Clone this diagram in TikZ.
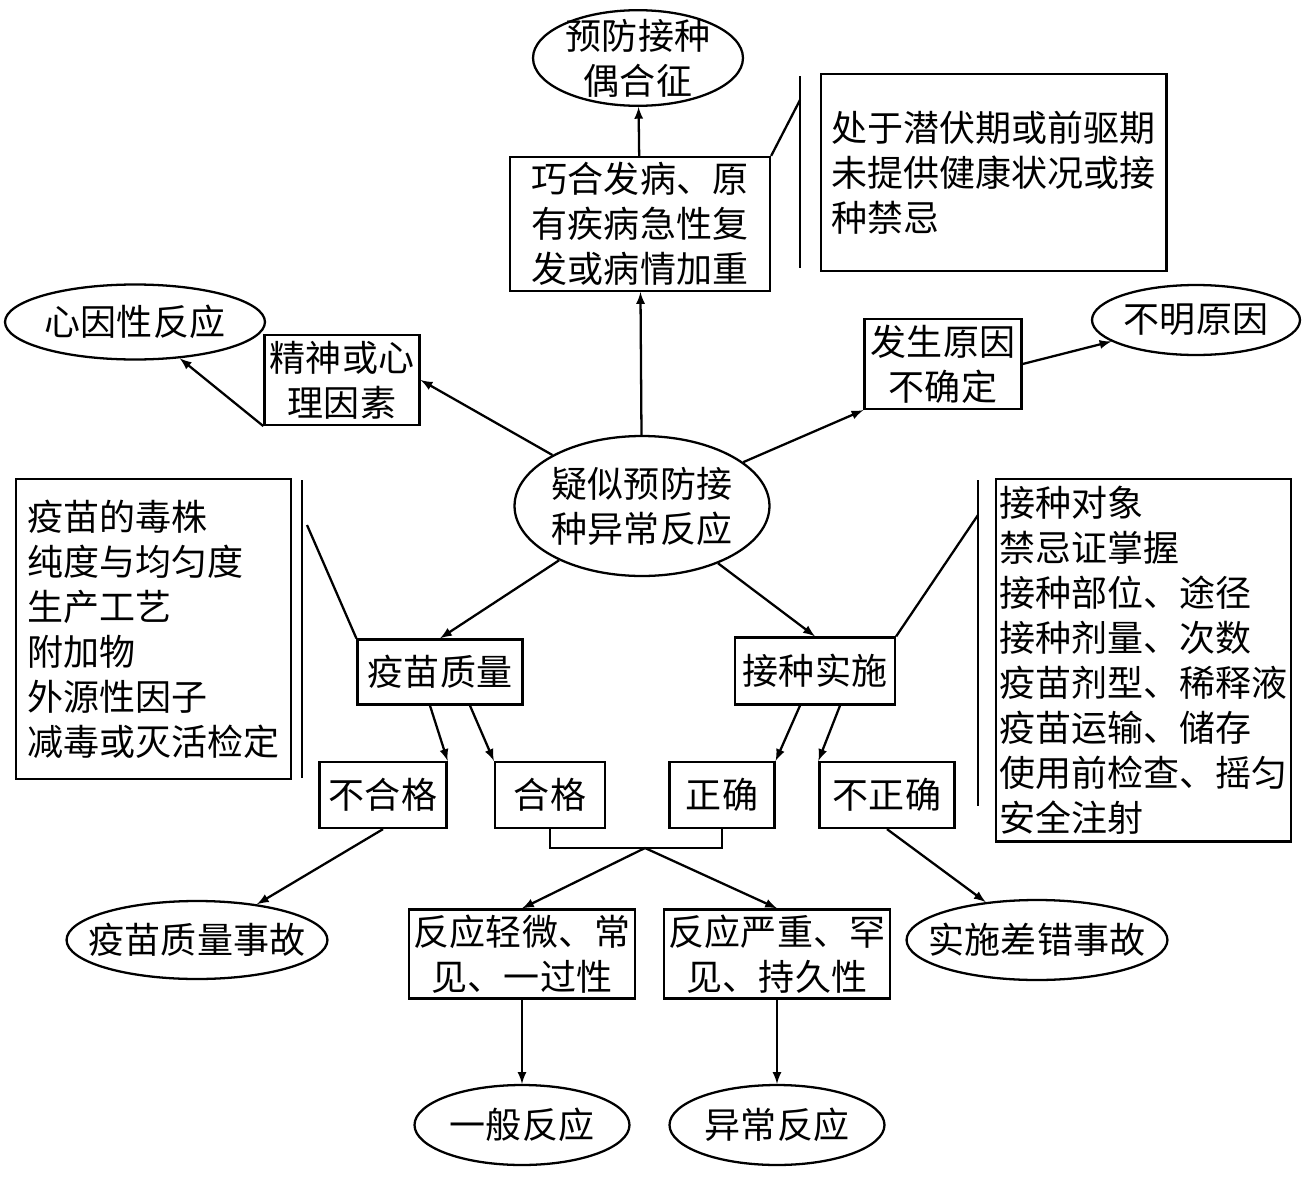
\documentclass[tikz,border=0pt]{standalone}
\usepackage{fontspec}
\setmainfont{Noto Sans CJK SC}
\usetikzlibrary{arrows,shapes.geometric}
\tikzset{
  box/.style = {draw, rectangle, line width=1.3pt, inner sep=3pt,
    align=center, font=\fontsize{20.5}{25.6}\selectfont},
  listbox/.style = {box, align=left, anchor=north west, inner sep=6pt},
  oval/.style = {draw, ellipse, line width=1.3pt, inner sep=-3pt,
    align=center, font=\fontsize{20.5}{25.6}\selectfont},
  conn/.style = {line width=1.3pt},
  arr/.style = {conn, -latex}
}
\begin{document}
\begin{tikzpicture}[x=0.02cm, y=-0.02cm]
  \useasboundingbox (0,0) rectangle (1303,1180);
  % centre and upper branch
  \node [oval, minimum width=5.1cm, minimum height=2.8cm] (susp) at (642,506) {疑似预防接\\种异常反应};
  \node [box, minimum width=5.2cm, minimum height=2.64cm] (coin) at (640,224) {巧合发病、原\\有疾病急性复\\发或病情加重};
  \node [oval, minimum width=4.2cm, minimum height=1.8cm] (coinres) at (638,58) {预防接种\\偶合征};
  \node [listbox, minimum width=6.76cm, minimum height=3.94cm] (coinlist) at (820,73) {处于潜伏期或前驱期\\未提供健康状况或接\\种禁忌};
  \coordinate (coinbar1) at (800,76);
  \coordinate (coinbar2) at (800,268);
  % left and right branch
  \node [box, minimum width=3.1cm, minimum height=1.8cm] (psy) at (342,380) {精神或心\\理因素};
  \node [oval, minimum width=5.2cm, minimum height=1.5cm] (psyres) at (135,322) {心因性反应};
  \node [box, minimum width=3.14cm, minimum height=1.8cm] (unk) at (943,364) {发生原因\\不确定};
  \node [oval, minimum width=4.16cm, minimum height=1.4cm] (unkres) at (1196,320) {不明原因};
  % vaccine quality
  \node [box, minimum width=3.3cm, minimum height=1.3cm] (vq) at (440,672) {疫苗质量};
  \node [listbox, inner xsep=4pt, minimum width=5.5cm, minimum height=6cm] (vqlist) at (15,478) {疫苗的毒株\\纯度与均匀度\\生产工艺\\附加物\\外源性因子\\减毒或灭活检定};
  \coordinate (vqbar1) at (302,480);
  \coordinate (vqbar2) at (302,778);
  \node [box, minimum width=2.54cm, minimum height=1.32cm] (bad) at (383,795) {不合格};
  \node [box, minimum width=2.2cm, minimum height=1.32cm] (good) at (550,795) {合格};
  \node [oval, minimum width=4.34cm, minimum height=1.56cm, inner sep=-9pt] (vqacc) at (197,940) {疫苗质量事故};
  % practice
  \node [box, minimum width=3.2cm, minimum height=1.34cm] (prac) at (815,671) {接种实施};
  \node [listbox, inner xsep=1pt, inner ysep=4pt, minimum width=5.9cm, minimum height=6.6cm] (praclist) at (995,478) {接种对象\\禁忌证掌握\\接种部位、途径\\接种剂量、次数\\疫苗剂型、稀释液\\疫苗运输、储存\\使用前检查、摇匀\\安全注射};
  \coordinate (pracbar1) at (978,480);
  \coordinate (pracbar2) at (978,806);
  \node [box, minimum width=2.1cm, minimum height=1.32cm] (right) at (722,795) {正确};
  \node [box, minimum width=2.7cm, minimum height=1.32cm] (wrong) at (887,795) {不正确};
  \node [oval, minimum width=4.3cm, minimum height=1.6cm, inner sep=-9pt] (pracacc) at (1037,940) {实施差错事故};
  % reactions
  \node [box, minimum width=4.5cm, minimum height=1.76cm] (mild) at (522,954) {反应轻微、常\\见、一过性};
  \node [box, minimum width=4.4cm, minimum height=1.76cm] (severe) at (777,954) {反应严重、罕\\见、持久性};
  \node [oval, minimum width=4.3cm, minimum height=1.6cm] (gen) at (522,1125) {一般反应};
  \node [oval, minimum width=4.3cm, minimum height=1.6cm] (abn) at (777,1125) {异常反应};
  \coordinate (join) at (645,848);
  % connectors
  \draw [arr] (susp) -- (coin);
  \draw [arr] (coin) -- (coinres);
  \draw [conn] (coinbar1) -- (coinbar2);
  \draw [conn] (coin.north east) -- (800,100);
  \draw [arr] (susp) -- (psy.east);
  \draw [arr] (psy.south west) -- (psyres);
  \draw [arr] (susp) -- (unk.south west);
  \draw [arr] (unk.east) -- (unkres);
  \draw [arr] (susp) -- (vq.north);
  \draw [arr] (susp) -- (prac.north);
  \draw [conn] (vqbar1) -- (vqbar2);
  \draw [conn] (vq.north west) -- (307,525);
  \draw [conn] (pracbar1) -- (pracbar2);
  \draw [conn] (prac.north east) -- (978,515);
  \draw [arr] (vq.south) ++(-10,0) -- (bad.north east);
  \draw [arr] (vq.south) ++(30,0) -- (good.north west);
  \draw [arr] (prac.south) ++(-15,0) -- (right.north east);
  \draw [arr] (prac.south) ++(25,0) -- (wrong.north west);
  \draw [arr] (bad.south) -- (vqacc);
  \draw [arr] (wrong.south) -- (pracacc);
  \draw [conn] (good.south) |- (join) -| (right.south);
  \draw [arr] (join) -- (mild.north);
  \draw [arr] (join) -- (severe.north);
  \draw [arr] (mild) -- (gen);
  \draw [arr] (severe) -- (abn);
\end{tikzpicture}
\end{document}
